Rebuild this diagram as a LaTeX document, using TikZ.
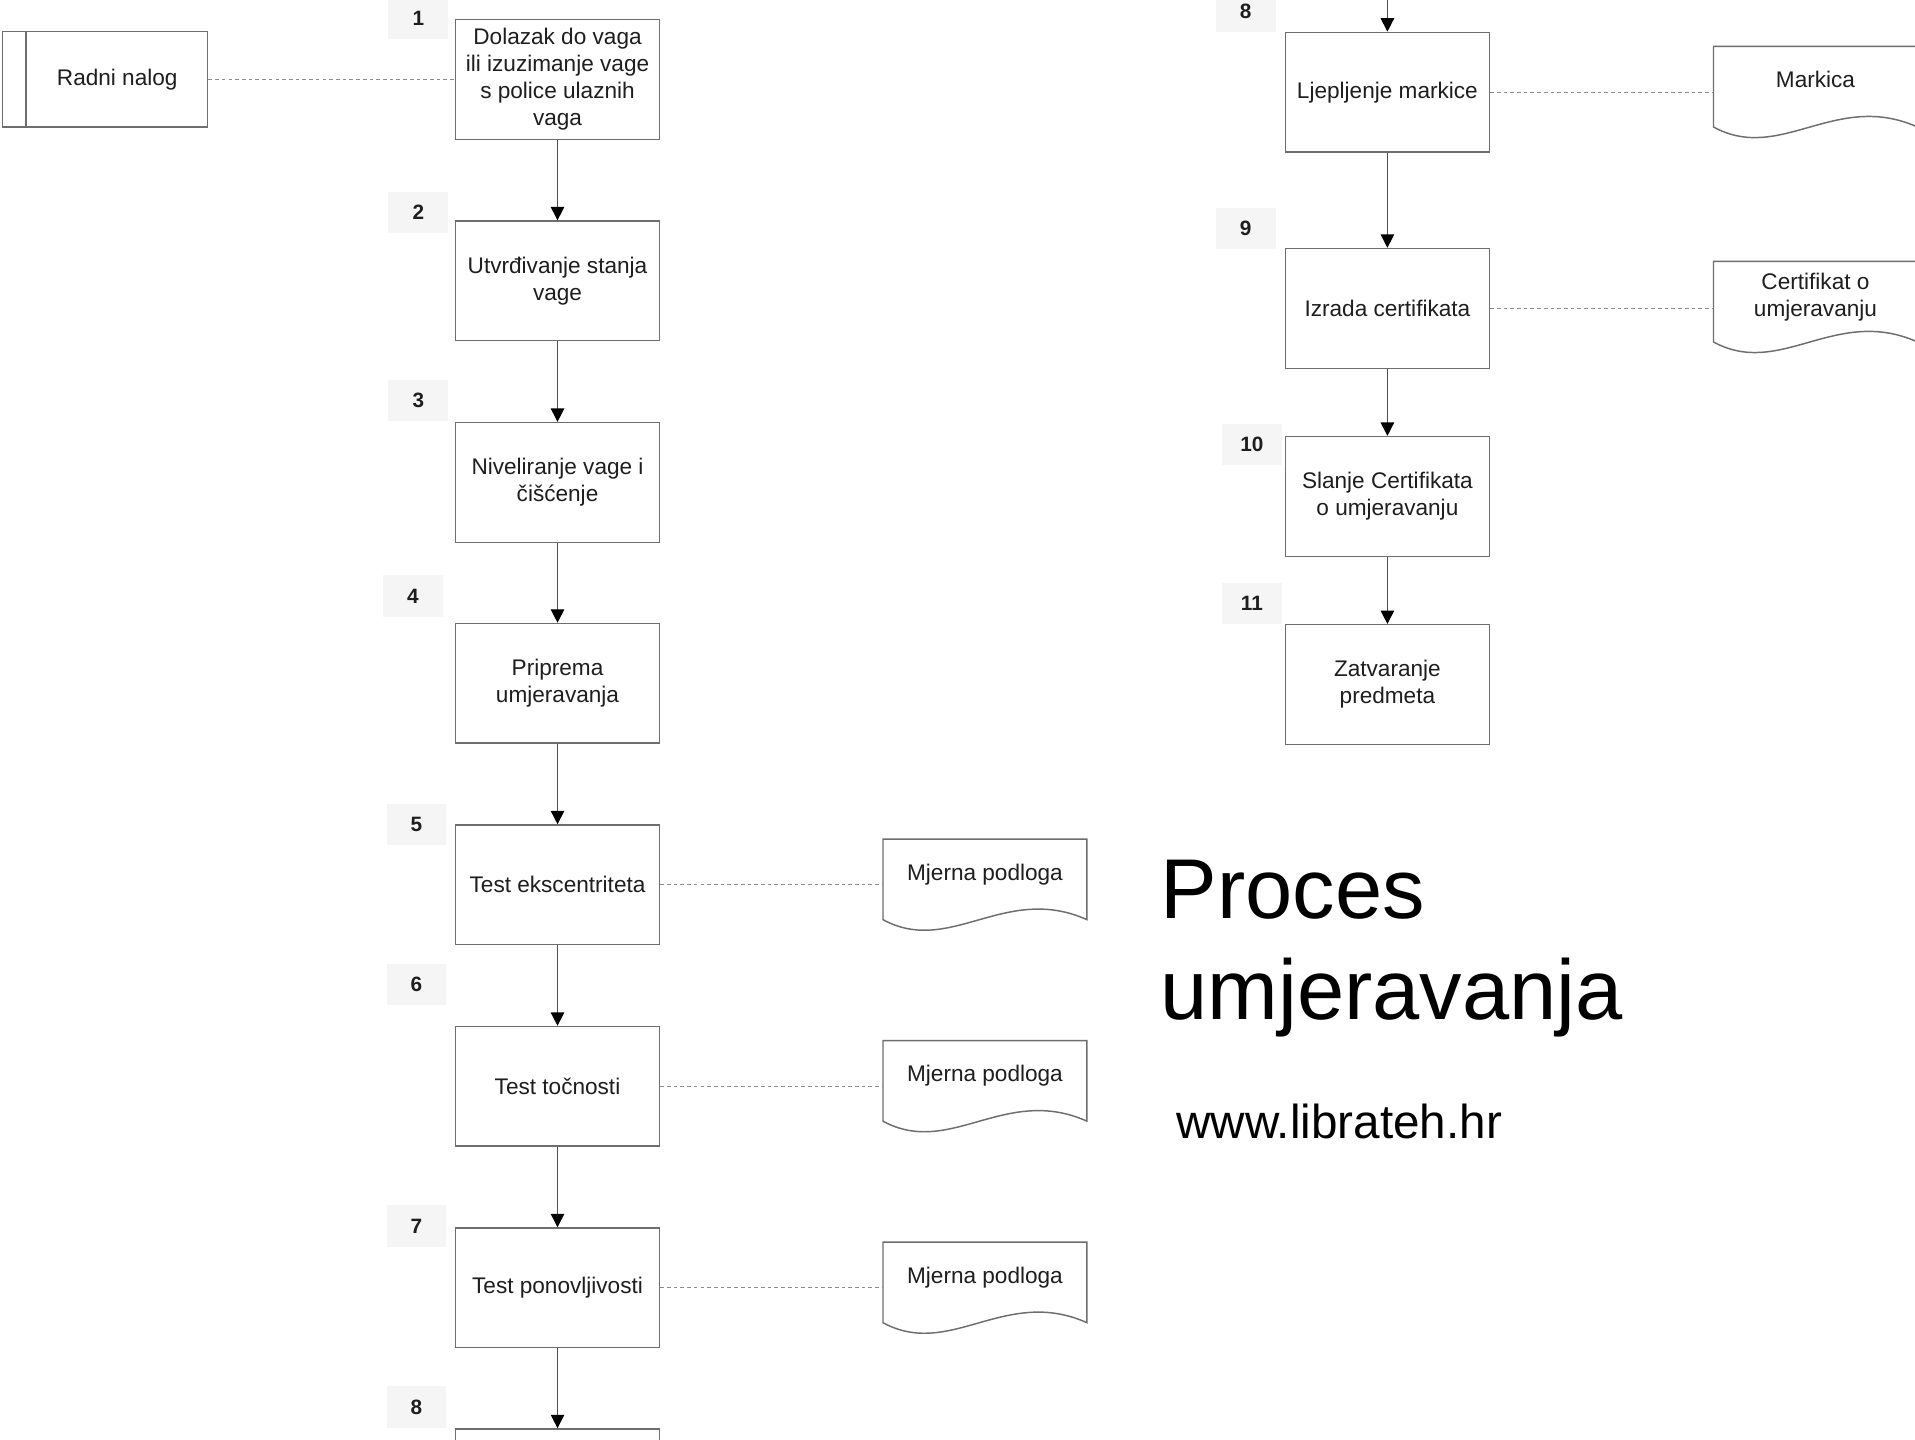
\documentclass[tikz,border=0pt]{standalone}
\usepackage{fontspec}
\setmainfont{Liberation Sans}
\usetikzlibrary{arrows.meta,calc}
\definecolor{edgegray}{HTML}{6E6E6E}
\definecolor{linkgray}{HTML}{505050}
\definecolor{dashgray}{HTML}{8C8C8C}
\definecolor{tagbg}{HTML}{F5F5F5}
\definecolor{inktext}{HTML}{1E1E1E}

\begin{document}
\begin{tikzpicture}[x=1pt,y=-1pt,
  stepbox/.style={draw=edgegray, line width=1.2pt, fill=white,
    minimum width=167pt, minimum height=98pt, inner sep=2pt,
    align=center, text=inktext, font=\fontsize{18.5}{22}\selectfont},
  docbox/.style={minimum width=167pt, minimum height=54pt, inner sep=0pt,
    align=center, text=inktext, font=\fontsize{18.5}{22}\selectfont},
  docline/.style={draw=edgegray, line width=1.2pt, fill=white},
  tag/.style={fill=tagbg, minimum width=49pt, minimum height=34pt, inner sep=0pt,
    text=inktext, font=\fontsize{17}{17}\selectfont\bfseries},
  flow/.style={draw=linkgray, line width=1.1pt,
    -{Triangle[width=11pt,length=11pt,color=black]}},
  assoc/.style={draw=dashgray, line width=1pt, dash pattern=on 3pt off 2.5pt},
]
\clip (0,0) rectangle (1568,1179);
\fill[white] (0,0) rectangle (1568,1179);

% step number tags, left column
\node[tag] (t1) at (342.5,15) {1};
\node[tag] (t2) at (342.5,174) {2};
\node[tag] (t3) at (342.5,328) {3};
\node[tag] (t4) at (338,488) {4};
\node[tag] (t5) at (341,675) {5};
\node[tag] (t6) at (341,806) {6};
\node[tag] (t7) at (341,1004) {7};
\node[tag] (t8) at (341,1152) {8};
% step number tags, right column
\node[tag] (u8) at (1020,9) {8};
\node[tag] (u9) at (1020,187) {9};
\node[tag] (u10) at (1025,364) {10};
\node[tag] (u11) at (1025,494) {11};

% work order
\node[draw=edgegray, line width=1.2pt, minimum width=168pt, minimum height=78pt,
  inner sep=0pt, text=inktext, font=\fontsize{18.5}{22}\selectfont]
  (rn) at (86,65) {\hspace*{20pt}Radni nalog};
\draw[edgegray, line width=1.2pt] ($(rn.north west)+(20,0)$) -- ($(rn.south west)+(20,0)$);

% process steps, left column
\node[stepbox] (b1) at (456.5,65) {Dolazak do vaga\\ili izuzimanje vage\\s police ulaznih\\vaga};
\node[stepbox] (b2) at (456.5,230) {Utvrđivanje stanja\\vage};
\node[stepbox] (b3) at (456.5,395) {Niveliranje vage i\\čišćenje};
\node[stepbox] (b4) at (456.5,559.5) {Priprema\\umjeravanja};
\node[stepbox] (b5) at (456.5,724.5) {Test ekscentriteta};
\node[stepbox] (b6) at (456.5,889.5) {Test točnosti};
\node[stepbox] (b7) at (456.5,1054.5) {Test ponovljivosti};
\node[stepbox] (b8) at (456.5,1219) {};

% process steps, right column
\coordinate (rin) at (1136,-6);
\node[stepbox] (r8) at (1136,75.5) {Ljepljenje markice};
\node[stepbox] (r9) at (1136,252.5) {Izrada certifikata};
\node[stepbox] (r10) at (1136,406.5) {Slanje Certifikata\\o umjeravanju};
\node[stepbox] (r11) at (1136,560.5) {Zatvaranje\\predmeta};

% documents (wavy bottom edge)
\foreach \d/\x/\y in {m5/806.5/714, m6/806.5/879, m7/806.5/1044, mk/1486.5/65, ct/1486.5/241}
  \path[docline] ($(\x,\y)+(-83.5,-27)$) -- ($(\x,\y)+(83.5,-27)$) -- ($(\x,\y)+(83.5,39)$)
    .. controls ($(\x,\y)+(16.5,9)$) and ($(\x,\y)+(-28.5,69)$) .. ($(\x,\y)+(-83.5,39)$) -- cycle;
\node[docbox] (m5) at (806.5,716) {Mjerna podloga};
\node[docbox] (m6) at (806.5,881) {Mjerna podloga};
\node[docbox] (m7) at (806.5,1046) {Mjerna podloga};
\node[docbox] (mk) at (1486.5,65) {Markica};
\node[docbox] (ct) at (1486.5,243) {Certifikat o\\umjeravanju};

% sequence flow
\draw[flow] (b1) -- (b2);
\draw[flow] (b2) -- (b3);
\draw[flow] (b3) -- (b4);
\draw[flow] (b4) -- (b5);
\draw[flow] (b5) -- (b6);
\draw[flow] (b6) -- (b7);
\draw[flow] (b7) -- (b8);
\draw[flow] (rin) -- (r8);
\draw[flow] (r8) -- (r9);
\draw[flow] (r9) -- (r10);
\draw[flow] (r10) -- (r11);

% associations with documents
\draw[assoc] (rn.east) -- (b1.west);
\draw[assoc] (b5.east) -- (b5.east -| m5.west);
\draw[assoc] (b6.east) -- (b6.east -| m6.west);
\draw[assoc] (b7.east) -- (b7.east -| m7.west);
\draw[assoc] (r8.east) -- (r8.east -| mk.west);
\draw[assoc] (r9.east) -- (r9.east -| ct.west);

% title
\node[anchor=base west, inner sep=0pt, font=\fontsize{69.5}{83}\selectfont] (title) at (950,752) {Proces};
\node[anchor=base west, inner sep=0pt, font=\fontsize{69.5}{83}\selectfont] (title2) at (950,835) {umjeravanja};
\node[anchor=base west, inner sep=0pt, font=\fontsize{39}{44}\selectfont] (web) at (963,932) {www.librateh.hr};
\end{tikzpicture}
\end{document}
